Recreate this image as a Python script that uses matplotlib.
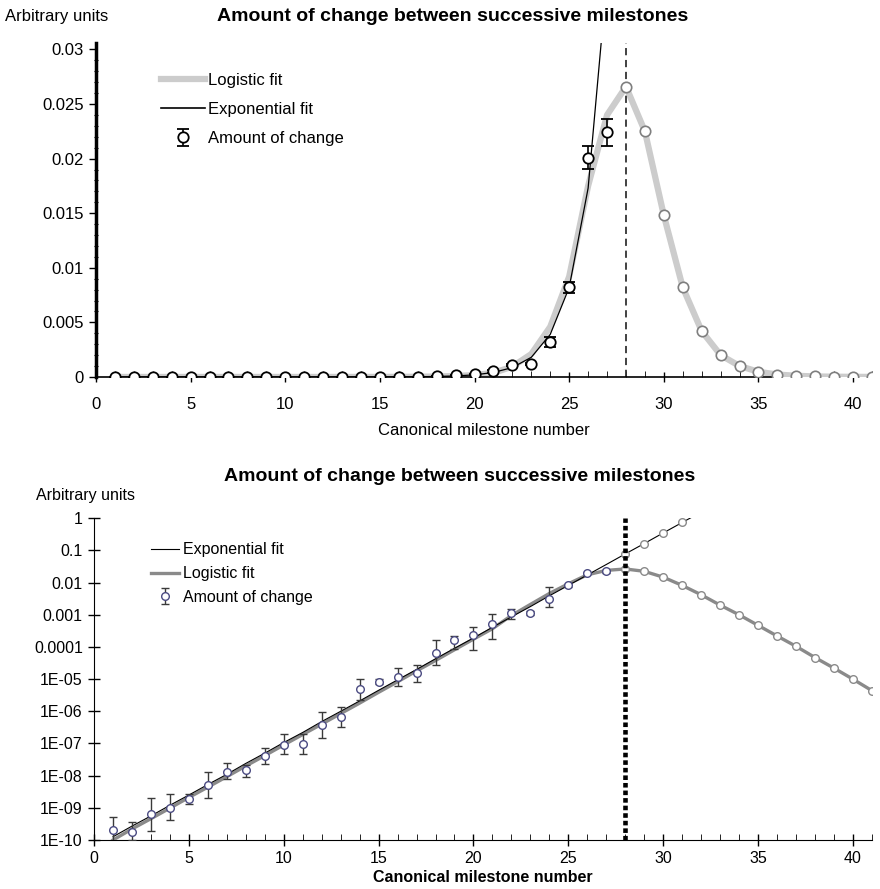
import matplotlib
matplotlib.use('Agg')
import matplotlib.pyplot as plt
from matplotlib.lines import Line2D
from matplotlib.ticker import MultipleLocator, FixedLocator, NullLocator

# Two views (linear / log) of the amount of change between milestones

plt.rcParams['font.family'] = ['Liberation Sans', 'DejaVu Sans']

milestones = list(range(1, 28))
change = [2.0e-10, 1.8e-10, 6.5e-10, 1.0e-9, 1.85e-9, 5.1e-9, 1.33e-8, 1.5e-8, 4.2e-8,
          9.0e-8, 9.6e-8, 3.7e-7, 6.8e-7, 4.8e-6, 8.3e-6, 1.2e-5, 1.6e-5, 6.6e-5,
          1.6e-4, 2.4e-4, 5.0e-4, 1.1e-3, 1.15e-3, 3.2e-3, 0.0082, 0.0201, 0.0224]
# error bars as drawn on the linear chart (+/-)
change_err = [0, 0, 0, 0, 0, 0, 0, 0, 0, 0, 0, 0, 0, 0, 0, 0, 0, 0,
              0.00003, 0.00005, 0.0001, 0.0001, 0.0001, 0.00045, 0.0005, 0.00105, 0.0012]
# error bars as drawn on the log chart (low / high)
change_lo = [0.87e-10, 1.0e-10, 1.9e-10, 4.2e-10, 1.3e-9, 2.0e-9, 7.7e-9, 9.3e-9, 2.3e-8,
             4.6e-8, 4.6e-8, 1.5e-7, 3.3e-7, 2.2e-6, 7.0e-6, 6.2e-6, 8.3e-6, 2.7e-5,
             8.5e-5, 8.1e-5, 1.8e-4, 7.4e-4, 1.0e-3, 1.7e-3, 0.0074, 0.0186, 0.0206]
change_hi = [5.2e-10, 3.7e-10, 2.0e-9, 2.6e-9, 2.6e-9, 1.3e-8, 2.5e-8, 2.1e-8, 7.4e-8,
             1.95e-7, 2.0e-7, 9.3e-7, 1.4e-6, 1.0e-5, 9.8e-6, 2.2e-5, 2.75e-5, 1.7e-4,
             2.2e-4, 4.3e-4, 1.07e-3, 1.5e-3, 1.3e-3, 7.5e-3, 0.0090, 0.0214, 0.0240]

exp_x = list(range(1, 33))
exp_fit = [1.26e-10, 2.7e-10, 5.6e-10, 1.2e-9, 2.5e-9, 5.3e-9, 1.1e-8, 2.4e-8, 5.0e-8,
           1.07e-7, 2.2e-7, 4.8e-7, 1.0e-6, 2.1e-6, 4.5e-6, 9.5e-6, 2.0e-5, 4.3e-5,
           9.1e-5, 1.9e-4, 4.1e-4, 8.6e-4, 1.8e-3, 3.9e-3, 8.2e-3, 0.0173, 0.0366,
           0.078, 0.164, 0.35, 0.74, 1.56]

fit_x = list(range(1, 42))
logistic = [1.0e-10, 2.2e-10, 4.6e-10, 9.8e-10, 2.1e-9, 4.4e-9, 9.3e-9, 2.0e-8, 4.2e-8,
            9.0e-8, 1.9e-7, 4.0e-7, 8.5e-7, 1.8e-6, 3.9e-6, 8.3e-6, 1.8e-5, 3.8e-5,
            8.2e-5, 1.75e-4, 3.7e-4, 9.5e-4, 2.1e-3, 4.6e-3, 0.0092, 0.0175, 0.0240,
            0.0266, 0.0225, 0.0148, 0.0082, 0.0042, 0.0020, 0.0010, 4.7e-4, 2.2e-4,
            1.05e-4, 4.7e-5, 2.2e-5, 1.0e-5, 4.4e-6]

peak = 28
log_ticks = [1e-10, 1e-9, 1e-8, 1e-7, 1e-6, 1e-5, 1e-4, 1e-3, 1e-2, 1e-1, 1]
log_labels = ['1E-10', '1E-09', '1E-08', '1E-07', '1E-06', '1E-05',
              '0.0001', '0.001', '0.01', '0.1', '1']
lin_ticks = [0, 0.005, 0.01, 0.015, 0.02, 0.025, 0.03]
lin_labels = ['0', '0.005', '0.01', '0.015', '0.02', '0.025', '0.03']
title = 'Amount of change between successive milestones'

fig = plt.figure(figsize=(8.8, 8.89), dpi=100)

# ---------------- top: linear ----------------
ax = fig.add_axes([0.109, 0.576, 0.882, 0.3757])
ax.plot(fit_x, logistic, color='#cccccc', lw=4.5, zorder=1.5, solid_joinstyle='round')
ax.plot(exp_x, exp_fit, color='black', lw=0.9, zorder=4)
ax.plot(fit_x[27:], logistic[27:], 'o', mfc='white', mec='#7f7f7f', ms=7.5,
        mew=1.2, zorder=5)
eb = ax.errorbar(milestones, change, yerr=change_err, fmt='o', mfc='white', mec='black',
                 ecolor='black', ms=7.5, mew=1.3, capsize=4.5, elinewidth=1.2,
                 capthick=1.3, zorder=6)
ax.axvline(peak, color='#333333', lw=1.3, dashes=(4, 2.6), zorder=2)

ax.set_xlim(0, 41)
ax.set_ylim(0, 0.0306)
for s in ['top', 'right']:
    ax.spines[s].set_visible(False)
ax.spines['left'].set_linewidth(2.5)
ax.spines['bottom'].set_linewidth(1.2)
ax.spines['bottom'].set_bounds(0, 35.7)
ax.xaxis.set_major_locator(MultipleLocator(5))
ax.xaxis.set_minor_locator(MultipleLocator(1))
ax.yaxis.set_major_locator(FixedLocator(lin_ticks))
ax.set_yticklabels(lin_labels)
ax.yaxis.set_minor_locator(MultipleLocator(0.001))
ax.tick_params(axis='both', which='major', labelsize=12, length=5, width=1)
ax.tick_params(axis='x', which='major', direction='inout', length=7, pad=11)
ax.tick_params(axis='x', which='minor', direction='in', length=4)
ax.tick_params(axis='y', which='minor', direction='inout', length=3, width=0.8)
ax.set_xlabel('Canonical milestone number', fontsize=12, labelpad=8)
ax.set_title(title, fontsize=14, fontweight='bold', pad=16, x=0.46)
fig.text(0.006, 0.982, 'Arbitrary units', fontsize=12, va='center', ha='left')

handles = [Line2D([], [], color='#cccccc', lw=4.5), Line2D([], [], color='black', lw=1.2), eb]
ax.legend(handles, ['Logistic fit', 'Exponential fit', 'Amount of change'], loc='upper left',
          bbox_to_anchor=(0.065, 0.955), frameon=False, fontsize=12, handlelength=2.6,
          handletextpad=0.2, labelspacing=0.85)

# ---------------- bottom: log ----------------
bx = fig.add_axes([0.1068, 0.0551, 0.884, 0.3619])
bx.set_yscale('log')
bx.plot(fit_x, logistic, color='#8a8a8a', lw=2.4, zorder=3)
bx.plot(exp_x, exp_fit, color='black', lw=0.8, zorder=4)
bx.plot(fit_x[27:], logistic[27:], 'o', mfc='white', mec='#8a8a8a', ms=5.5, mew=1,
        zorder=5)
bx.plot(exp_x[27:31], exp_fit[27:31], 'o', mfc='white', mec='#8a8a8a', ms=5.5, mew=1,
        zorder=5)
lo_err = [c - l for c, l in zip(change, change_lo)]
hi_err = [h - c for c, h in zip(change, change_hi)]
eb2 = bx.errorbar(milestones, change, yerr=[lo_err, hi_err], fmt='o', mfc='white',
                  mec='#4b4b82', ecolor='#3a3a3a', ms=5.5, mew=1, capsize=3,
                  elinewidth=1, capthick=1, zorder=6)
bx.plot([peak, peak], [1e-10, 1], color='black', lw=3.3, linestyle=(0, (1, 0.65)),
        zorder=7)

bx.set_xlim(0, 41)
bx.set_ylim(1e-10, 1)
for s in ['top', 'right']:
    bx.spines[s].set_visible(False)
bx.xaxis.set_major_locator(MultipleLocator(5))
bx.xaxis.set_minor_locator(MultipleLocator(1))
bx.yaxis.set_major_locator(FixedLocator(log_ticks))
bx.yaxis.set_minor_locator(NullLocator())
bx.set_yticklabels(log_labels)
bx.tick_params(axis='both', which='major', labelsize=11.5, direction='inout',
               length=9, width=1)
bx.tick_params(axis='x', which='minor', direction='in', length=4)
bx.set_xlabel('Canonical milestone number', fontsize=11.5, fontweight='bold', labelpad=3)
bx.set_title(title, fontsize=14, fontweight='bold', pad=27, x=0.47)
fig.text(0.041, 0.443, 'Arbitrary units', fontsize=11.5, va='center', ha='left')

handles2 = [Line2D([], [], color='black', lw=0.8), Line2D([], [], color='#8a8a8a', lw=2.4), eb2]
bx.legend(handles2, ['Exponential fit', 'Logistic fit', 'Amount of change'], loc='upper left',
          bbox_to_anchor=(0.055, 0.97), frameon=False, fontsize=11.5, handlelength=1.75,
          handletextpad=0.25, labelspacing=0.55)

fig.savefig('out.png', dpi=100)
